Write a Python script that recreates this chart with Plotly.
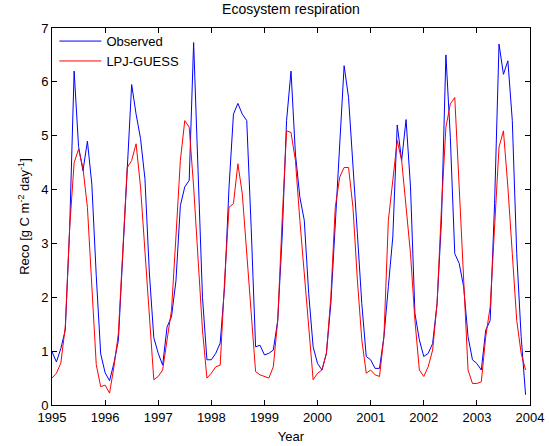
import numpy as np
import plotly.graph_objects as go

start_year = 1995
observed = [
    0.99, 0.80, 1.05, 1.39, 3.3, 6.2, 4.8, 4.35, 4.9, 4.1, 2.4, 0.95,
    0.6, 0.45, 0.78, 1.2, 2.8, 4.5, 5.95, 5.4, 4.95, 4.2, 2.45, 1.25,
    0.96, 0.74, 1.45, 1.64, 2.3, 3.7, 4.05, 4.17, 6.73, 4.35, 2.0, 0.84,
    0.84, 0.96, 1.15, 2.2, 4.05, 5.4, 5.6, 5.4, 5.28, 3.3, 1.08, 1.11,
    0.93, 0.96, 1.02, 1.57, 3.12, 5.28, 6.2, 4.66, 3.86, 3.43, 2.07, 1.08,
    0.77, 0.65, 0.96, 1.88, 3.43, 4.97, 6.3, 5.71, 4.54, 3.18, 1.88, 0.9,
    0.84, 0.68, 0.68, 1.27, 2.2, 3.12, 5.2, 4.54, 5.3, 4.05, 1.7, 1.21,
    0.9, 0.96, 1.14, 1.88, 3.43, 6.5, 4.97, 2.81, 2.63, 2.2, 1.27, 0.84,
    0.77, 0.65, 1.39, 1.57, 3.74, 6.7, 6.14, 6.39, 5.28, 2.81, 1.27, 0.19,
]
lpj_guess = [
    0.50, 0.59, 0.78, 1.45, 3.3, 4.5, 4.75, 4.4, 3.67, 2.3, 0.75, 0.34,
    0.37, 0.22, 0.71, 1.33, 2.93, 4.41, 4.54, 4.85, 4.05, 2.81, 1.57, 0.47,
    0.53, 0.65, 1.21, 1.76, 3.12, 4.54, 5.28, 5.16, 4.05, 2.63, 1.39, 0.50,
    0.59, 0.71, 0.74, 2.32, 3.67, 3.74, 4.48, 3.92, 2.81, 1.7, 0.62, 0.56,
    0.53, 0.50, 0.71, 1.57, 3.43, 5.09, 5.06, 4.54, 3.43, 2.44, 1.39, 0.47,
    0.59, 0.65, 0.96, 2.01, 3.67, 4.23, 4.41, 4.41, 3.67, 2.32, 1.21, 0.59,
    0.65, 0.56, 0.53, 1.27, 3.43, 4.17, 4.91, 4.54, 3.67, 2.81, 1.57, 0.65,
    0.53, 0.71, 1.02, 1.88, 3.67, 5.16, 5.59, 5.71, 4.05, 2.2, 0.65, 0.40,
    0.40, 0.43, 1.27, 1.82, 3.43, 4.79, 5.09, 4.05, 2.81, 1.57, 0.96, 0.65,
]
x_ticks = list(range(1995, 2005))
y_ticks = list(range(0, 8))

t = start_year + np.arange(len(observed)) / 12.0

font = "Liberation Sans, Arial, sans-serif"
fig = go.Figure()
fig.add_trace(go.Scatter(x=t, y=observed, mode="lines", name="Observed",
                         line=dict(color="#0000ff", width=1)))
fig.add_trace(go.Scatter(x=t, y=lpj_guess, mode="lines", name="LPJ-GUESS",
                         line=dict(color="#ff0000", width=1)))

axis_common = dict(showline=True, linecolor="black", linewidth=1, mirror="ticks",
                   ticks="inside", ticklen=5, tickcolor="black", showgrid=False,
                   zeroline=False, automargin=False,
                   tickfont=dict(family=font, size=13, color="black"))
fig.update_layout(
    template="none",
    width=549, height=446,
    margin=dict(l=52, r=19, t=28, b=41),
    paper_bgcolor="white", plot_bgcolor="white",
    font=dict(family=font, size=13, color="black"),
    title=dict(text="Ecosystem respiration", x=0.53, xanchor="center",
               y=0.99, yanchor="top", font=dict(size=14)),
    xaxis=dict(range=[1995, 2004], tickvals=x_ticks, ticktext=[str(v) for v in x_ticks],
               title=dict(text="Year", standoff=8, font=dict(size=13)), **axis_common),
    yaxis=dict(range=[0, 7], tickvals=y_ticks,
               title=dict(text="Reco [g C m<sup>-2</sup> day<sup>-1</sup>]", standoff=8,
                          font=dict(size=13)),
               **axis_common),
    legend=dict(x=0.005, y=1.005, xanchor="left", yanchor="top", bgcolor="rgba(255,255,255,0)",
                borderwidth=0, font=dict(size=13), tracegroupgap=0, itemwidth=42),
    showlegend=True,
)
fig.write_html("out.html")
